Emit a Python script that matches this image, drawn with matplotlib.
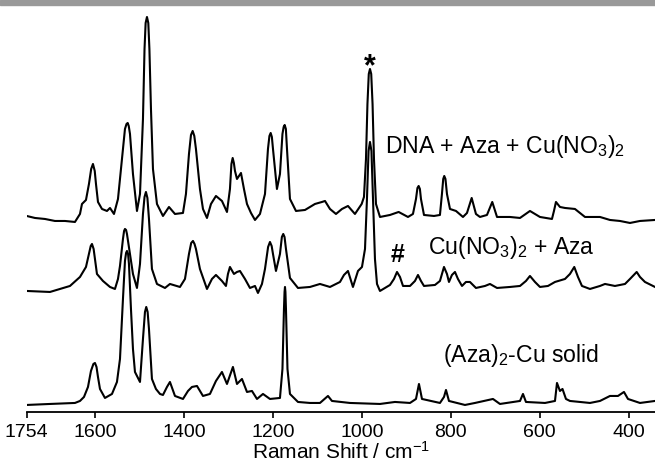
import matplotlib
matplotlib.use('Agg')
import matplotlib.pyplot as plt
from matplotlib.patches import Rectangle

plt.rcParams['font.family'] = ['Liberation Sans', 'DejaVu Sans']
plt.rcParams['mathtext.fontset'] = 'custom'
plt.rcParams['mathtext.rm'] = 'Liberation Sans'
plt.rcParams['mathtext.it'] = 'Liberation Sans:italic'
plt.rcParams['mathtext.bf'] = 'Liberation Sans:bold'

# wavenumbers (cm-1) and intensities (a.u.), one pair per trace
dna_wn = [1754, 1735.5, 1713, 1690.5, 1668, 1645.5, 1634.2, 1629.7, 1620.7, 1614, 1609, 1605, 1601,
          1598.2, 1593.7, 1584.7, 1573.5, 1566.7, 1557.7, 1548.7, 1539.7, 1533, 1529.5, 1526.9,
          1524.5, 1521.7, 1515, 1506, 1499.2, 1492.5, 1489, 1486.5, 1483.5, 1480.5, 1478, 1474.5,
          1470, 1461, 1447.5, 1434, 1420.5, 1402.5, 1395.8, 1389, 1384.5, 1380.7, 1377, 1373.3,
          1364.3, 1357.5, 1348.5, 1339.5, 1328.3, 1314.8, 1303.5, 1296.8, 1293.5, 1290.7, 1288,
          1285.5, 1281, 1272, 1265.3, 1258.5, 1249.5, 1240.5, 1229.3, 1218, 1211.3, 1208, 1205.2,
          1202.5, 1200, 1191.1, 1184.3, 1178.7, 1176, 1173.7, 1171, 1168.5, 1161.8, 1148.3, 1128,
          1105.6, 1089.8, 1083, 1071.8, 1058.3, 1044.8, 1031.3, 1015.6, 1000.5, 995.3, 990.8, 987.5,
          984.5, 981.8, 979, 976, 972.8, 968.3, 959.3, 936.8, 917.3, 896.3, 885.1, 878.3, 875,
          872.3, 869.5, 867.1, 860.3, 837.8, 824.4, 819.9, 817, 814.7, 812, 808.6, 801.8, 788.3,
          772.6, 763.6, 753, 743.4, 734.4, 718.6, 706.7, 696, 666.9, 644.3, 621.9, 599.4, 572.4,
          567.9, 563.4, 554.4, 543.1, 520.7, 498.1, 464.4, 441.9, 419.4, 396.9, 374.4, 340.6]
dna_int = [3, 1, 0, -2, -2, -3, 5, 15, 19, 35, 50, 55, 48,
           35, 17, 10, 8, 11, 5, 20, 60, 90, 95, 96,
           93, 85, 45, 8, 25, 100, 170, 196, 202, 196, 170, 110,
           50, 15, 3, 12, 5, 6, 25, 65, 84, 88, 83, 70,
           30, 10, 1, 15, 23, 18, 7, 30, 55, 61, 56,
           48, 40, 46, 30, 15, 6, -1, 5, 25, 70, 83, 86,
           82, 70, 30, 45, 85, 92, 94, 90, 70, 20, 8, 9,
           15, 17, 18, 10, 5, 10, 13, 5, 15, 22, 60, 115,
           145, 150, 145, 115, 60, 15, 2, 4, 7, 2, 5, 20, 31,
           33, 30, 20, 4, 3, 4, 25, 40, 43, 40, 25, 10, 8,
           2, 6, 21, 5, 2, 4, 17, 2, 2, 1, 8, 2, 0,
           8, 17, 12, 11, 10, 2, 2, -1, -2, -4, -2, -1]

mix_wn = [1754, 1701.7, 1656.7, 1634.2, 1620.7, 1614, 1610, 1607.2, 1603.5, 1600.5, 1596, 1582.5,
          1566.7, 1555.5, 1548.7, 1544.2, 1537.5, 1535, 1533, 1530.5, 1528.5, 1521.7, 1515, 1506,
          1499.2, 1492.5, 1489, 1485.8, 1482.5, 1479, 1472.3, 1461, 1443, 1431.8, 1409.3, 1398,
          1389, 1384, 1380, 1376.5, 1373.3, 1364.3, 1348.5, 1337.3, 1328.3, 1314.8, 1305.8, 1301.3,
          1296.8, 1287.8, 1281, 1274.3, 1263, 1251.8, 1240.5, 1233.8, 1224.8, 1218, 1211, 1206.8,
          1203, 1200, 1193.3, 1184.3, 1180, 1176.9, 1174, 1170.8, 1161.8, 1143.8, 1116.8, 1094.3,
          1071.8, 1049.3, 1040.3, 1031.3, 1020.1, 1008.8, 999.8, 993, 988.6, 985, 981.8, 978.5,
          975.1, 970.6, 966, 959.3, 936.8, 927.8, 921, 914.3, 907.5, 891.8, 880.6, 873.8, 867.1,
          860.3, 835.6, 824.4, 815.3, 808.6, 804.1, 797.4, 790.6, 783.9, 774.8, 765.9, 756.9, 743.4,
          723.1, 711.9, 696, 666.9, 644.3, 630.9, 621.9, 610.6, 599.4, 581.4, 565.6, 543.1, 531.9,
          522.2, 513.9, 504.9, 486.9, 464.4, 453.1, 430.7, 408.1, 396.9, 381.8, 374.4, 363.2, 340.6]
mix_int = [-2, -3, 3, 12, 22, 35, 43, 45, 40, 30, 15, 8,
           2, 0, 10, 23, 50, 58, 60, 59, 55, 35, 15, 1,
           25, 75, 92, 97, 91, 70, 20, 5, 1, 5, 2, 10,
           35, 46, 48, 45, 40, 20, 0, 10, 14, 8, 3, 15,
           22, 15, 17, 18, 10, 1, 3, -4, 5, 20, 42, 47,
           43, 35, 18, 35, 52, 55, 52, 40, 11, 1, 2, 5,
           2, 7, 14, 18, 2, 18, 22, 40, 90, 138, 147, 138,
           90, 30, 5, -2, 4, 10, 17, 12, 3, 3, 8, 14, 8,
           3, 4, 8, 22, 15, 7, 14, 17, 10, 3, 7, 7, 1,
           3, 5, 1, 2, 3, 8, 13, 7, 2, 3, 7, 10, 15,
           22, 12, 3, 0, 3, 5, 3, 5, 10, 17, 12, 7, 2]

solid_wn = [1754, 1701.7, 1645.5, 1634.2, 1625.2, 1616.2, 1609.5, 1604, 1600.5, 1597, 1593.7, 1589.2,
            1578, 1562.2, 1551, 1544.2, 1537.5, 1533, 1530.5, 1528.5, 1526, 1524, 1519.5, 1515,
            1510.5, 1499.2, 1492.5, 1488, 1485.1, 1482, 1479, 1472.3, 1463.3, 1454.2, 1447.5, 1438.5,
            1431.8, 1420.5, 1402.5, 1391.2, 1382.3, 1371, 1357.5, 1341.8, 1328.3, 1314.8, 1303.5,
            1290.1, 1281, 1269.8, 1258.5, 1247.3, 1236, 1222.5, 1206.8, 1184.3, 1178.7, 1175.3, 1174,
            1173, 1172, 1170.8, 1167.4, 1161.8, 1143.8, 1116.8, 1094.3, 1076.3, 1067.3, 1026.8, 959.3,
            925.6, 891.8, 878.3, 871.6, 864.8, 824.4, 815.3, 810.8, 804.1, 768.1, 745.6, 705.1, 689.4,
            644.3, 637.6, 630.9, 588.1, 565.6, 561.1, 554.4, 548.7, 540.9, 531.9, 486.9, 464.4, 441.9,
            423.9, 410.4, 401.4, 374.4, 340.6]
solid_int = [-1, 0, 1, 3, 7, 17, 33, 40, 41, 37, 27, 15,
             6, 10, 22, 45, 105, 143, 151, 153, 150, 140, 95, 55,
             32, 22, 65, 92, 97, 92, 75, 25, 15, 10, 9, 17,
             22, 8, 5, 13, 17, 18, 8, 10, 23, 32, 20,
             37, 20, 25, 12, 13, 5, 10, 5, 6, 35, 95, 112,
             117, 112, 95, 35, 10, 2, 1, 1, 8, 3, 1, 0,
             2, 1, 5, 20, 5, 1, 7, 14, 3, -1, 1, 5, 0,
             3, 10, 2, 1, 3, 21, 13, 15, 5, 3, 1, 3, 8,
             8, 12, 5, 1, 3]

labels = ['DNA + Aza + Cu(NO$_3$)$_2$', 'Cu(NO$_3$)$_2$ + Aza', '(Aza)$_2$-Cu solid']
ticks = [1754, 1600, 1400, 1200, 1000, 800, 600, 400]

fig = plt.figure(figsize=(6.55, 4.64), dpi=100)
ax = fig.add_axes([0.0408, 0.11, 0.9592, 0.8728])

# stacked traces
ax.plot(dna_wn, [v + 193 for v in dna_int], color='black', lw=1.5)
ax.plot(mix_wn, [v + 123 for v in mix_int], color='black', lw=1.5)
ax.plot(solid_wn, [v + 8 for v in solid_int], color='black', lw=1.5)

ax.text(948, 260, labels[0], fontsize=16.6, va='baseline')
ax.text(851, 159, labels[1], fontsize=16.6, va='baseline')
ax.text(818, 51, labels[2], fontsize=16.6, va='baseline')
ax.text(983, 338, '*', fontsize=22, fontweight='bold', ha='center', va='baseline')
ax.text(920, 151, '#', fontsize=18, fontweight='bold', ha='center', va='baseline')

ax.set_xlim(1754, 340.6)
ax.set_ylim(0, 405)
ax.set_xticks(ticks)
ax.set_xticklabels([str(t) for t in ticks], fontsize=14)
ax.set_yticks([])
for side in ['left', 'right', 'top']:
    ax.spines[side].set_visible(False)
ax.spines['bottom'].set_linewidth(1.3)
ax.tick_params(axis='x', direction='out', length=4, width=1.2, pad=4)
ax.set_xlabel('Raman Shift / cm$^{-1}$', fontsize=15, labelpad=0)

# gray rule across the top of the page
fig.patches.append(Rectangle((0, 0.987), 1, 0.0108, transform=fig.transFigure,
                             color='#999999', zorder=0))

fig.savefig('out.png', dpi=100)
